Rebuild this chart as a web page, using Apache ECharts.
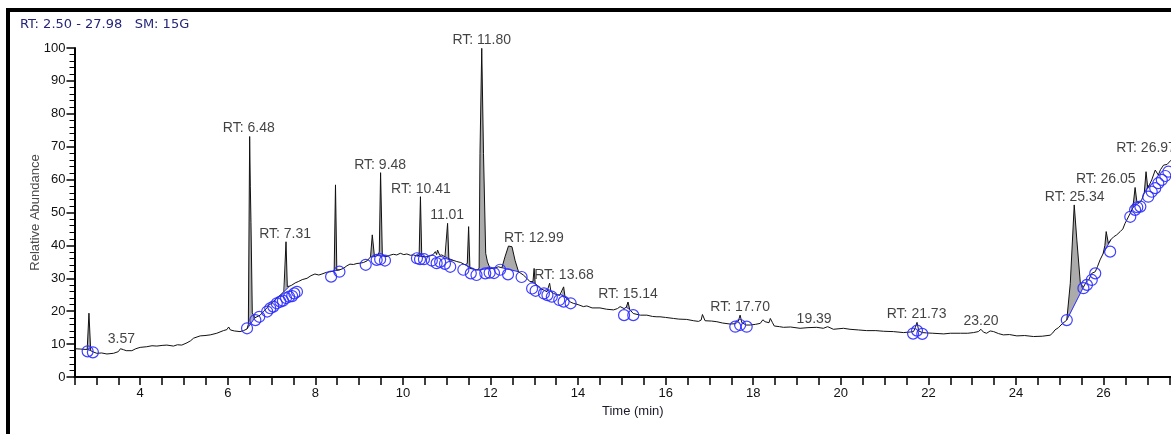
<!DOCTYPE html>
<html>
<head>
<meta charset="utf-8">
<title>RT 2.50 - 27.98</title>
<script src="https://cdn.jsdelivr.net/npm/echarts@6/dist/echarts.min.js"></script>
<style>
html,body{margin:0;padding:0;background:#fff;overflow:hidden;}
/* 画布比窗口略宽, 右侧被裁掉 */
#chart{width:1200px;height:434px;}
</style>
</head>
<body>
<div id="chart"></div>
<script>
// 保留时间 (min)
var traceTime=[2.50,2.63,2.74,2.79,2.83,2.87,2.93,3.01,3.12,3.24,3.39,3.50,3.55,3.58,3.62,3.68,3.81,3.90,
    4.00,4.15,4.27,4.38,4.50,4.61,4.76,4.85,4.95,5.07,5.15,5.22,5.37,5.48,5.60,5.75,5.90,5.98,6.02,6.06,6.15,6.28,6.36,
    6.44,6.47,6.50,6.515,6.53,6.56,6.62,6.74,6.82,6.89,6.95,7.01,7.08,7.16,7.22,7.28,7.30,7.33,7.36,7.41,7.46,7.54,7.61,
    7.70,7.81,7.90,7.99,8.08,8.15,8.25,8.34,8.43,8.46,8.49,8.56,8.64,8.72,8.79,8.87,8.95,9.02,9.10,9.18,9.26,9.30,9.35,
    9.42,9.46,9.49,9.53,9.63,9.70,9.78,9.86,9.94,10.02,10.09,10.17,10.24,10.32,10.37,10.40,10.43,10.52,10.62,10.69,10.74,
    10.77,10.79,10.84,10.89,10.96,10.99,11.02,11.05,11.14,11.23,11.32,11.42,11.47,11.50,11.53,11.61,11.69,11.74,11.76,
    11.80,11.84,11.89,11.93,11.99,12.07,12.18,12.26,12.33,12.41,12.49,12.56,12.64,12.75,12.83,12.90,12.97,12.996,13.02,
    13.13,13.22,13.29,13.33,13.35,13.38,13.44,13.52,13.58,13.62,13.67,13.70,13.74,13.82,13.89,14.00,14.12,14.20,14.32,
    14.50,14.65,14.81,14.90,14.96,15.05,15.10,15.14,15.18,15.26,15.42,15.57,15.70,15.80,15.87,16.00,16.18,16.30,16.48,
    16.64,16.75,16.81,16.84,16.90,17.05,17.17,17.30,17.47,17.60,17.66,17.70,17.74,17.84,17.93,18.05,18.16,18.22,18.27,
    18.36,18.39,18.44,18.48,18.60,18.69,18.85,19.07,19.25,19.45,19.60,19.70,19.83,20.06,20.21,20.40,20.59,20.80,20.98,
    21.20,21.43,21.60,21.66,21.70,21.74,21.78,21.86,21.96,22.10,22.35,22.50,22.73,22.90,23.03,23.14,23.20,23.26,23.33,
    23.41,23.49,23.60,23.71,23.85,24.02,24.20,24.40,24.60,24.78,24.84,24.89,24.97,25.05,25.16,25.24,25.33,25.39,25.47,
    25.54,25.60,25.66,25.73,25.81,25.86,25.92,25.99,26.03,26.06,26.11,26.17,26.23,26.30,26.38,26.44,26.49,26.53,26.61,
    26.67,26.72,26.76,26.82,26.87,26.93,26.97,27.01,27.05,27.10,27.18,27.25,27.30,27.37,27.45,27.54,27.62,27.66,27.72,
    27.85,27.98];
// 相对丰度
var traceValue=[8.6,8.5,8.4,8.4,19.4,8.0,7.6,7.2,7.3,7.0,7.2,7.7,8.6,9.2,8.3,8.0,8.0,8.6,
    9.0,9.2,9.5,9.4,9.6,9.7,9.4,9.8,9.7,10.4,11.0,11.8,12.5,12.6,12.8,13.3,14.1,14.4,15.2,14.3,14.0,13.8,14.1,
    14.6,16.0,73.1,58.0,47.0,19.5,18.0,18.8,20.0,20.9,22.0,22.4,23.4,24.4,25.2,25.9,26.2,41.1,27.5,27.6,27.9,28.6,29.0,
    29.6,30.0,30.8,31.3,31.0,31.3,31.8,32.0,32.2,58.4,32.5,32.6,33.0,33.8,34.3,34.2,34.5,34.6,34.8,35.3,36.5,43.2,36.6,
    36.9,38.0,62.1,37.1,36.6,37.0,37.3,37.1,37.6,37.2,37.4,37.0,37.1,36.8,37.0,54.8,36.6,36.5,36.8,37.2,38.1,
    37.2,38.6,37.0,37.1,36.5,37.0,46.7,35.6,35.5,35.1,34.8,34.1,34.5,45.7,33.0,32.8,32.5,33.0,68.0,
    99.9,68.0,37.6,35.0,33.0,33.0,33.5,33.2,36.5,39.8,39.6,35.5,32.0,31.0,30.0,29.0,29.0,33.0,28.5,
    26.9,26.4,25.9,26.5,28.5,26.0,25.4,25.0,24.8,25.0,27.4,24.5,23.9,22.8,22.4,22.0,21.4,21.6,21.0,
    21.0,20.6,20.4,20.8,21.4,20.8,21.2,22.8,20.5,19.3,18.8,18.8,18.4,18.3,18.3,18.1,17.8,17.6,17.5,
    17.1,16.9,17.3,19.0,17.1,17.0,16.8,16.4,16.1,16.2,17.0,18.8,16.5,15.8,15.8,16.0,16.3,17.4,16.8,
    16.5,17.8,16.5,15.5,15.3,15.1,15.2,14.8,15.0,15.1,14.8,15.3,14.5,14.8,14.5,14.3,14.1,14.1,13.9,
    13.8,13.5,13.7,13.8,15.0,16.6,14.0,13.5,13.4,13.3,13.1,13.3,13.3,13.3,13.5,13.8,14.5,13.6,13.3,
    14.0,13.8,13.2,12.8,12.9,12.5,12.6,12.3,12.4,12.7,13.4,14.3,15.0,16.1,17.3,28.5,52.3,41.6,28.5,
    27.3,28.8,29.5,31.5,32.0,33.5,35.6,37.5,40.0,44.2,40.6,41.8,42.6,43.2,44.2,45.0,46.7,47.7,49.8,
    51.5,57.6,53.3,53.0,53.8,56.0,62.4,57.4,58.5,59.9,62.9,61.4,63.0,64.4,64.6,65.9,67.0,68.5,67.6,
    68.2,68.8];
// 积分点 (蓝圈)
var markTime=[2.80,2.92,
    6.44,6.63,6.72,6.90,6.97,7.04,7.12,7.20,7.26,7.33,7.40,7.47,7.52,7.58,
    8.36,8.55,9.15,9.40,9.48,9.59,
    10.32,10.39,10.48,10.66,10.77,10.85,10.96,11.08,
    11.38,11.55,11.68,11.88,11.98,12.08,12.22,12.40,12.71,
    12.95,13.03,13.22,13.30,13.40,13.57,13.67,13.83,
    15.05,15.26,17.59,17.70,17.85,21.65,21.74,21.86,
    25.16,25.54,25.62,25.73,25.81,26.15,
    26.61,26.72,26.77,26.84,27.02,27.10,27.18,27.25,27.33,27.41,27.48];
var markValue=[7.8,7.5,
    14.8,17.3,18.3,19.9,20.9,21.4,22.4,22.9,23.2,24.0,24.4,24.6,25.4,25.9,
    30.5,32.0,34.1,35.6,35.8,35.4,
    36.1,35.8,35.8,35.4,34.6,35.0,34.4,33.5,
    32.6,31.5,31.0,31.5,31.7,31.6,32.6,31.2,30.4,
    26.9,26.2,25.4,24.9,24.4,23.4,22.9,22.4,
    18.8,18.8,15.3,15.8,15.3,13.2,14.1,13.1,
    17.3,27.0,28.0,29.5,31.5,38.1,
    48.7,50.8,51.6,51.8,54.8,56.3,57.4,58.9,59.9,61.1,62.4];
// 峰标注
var peakRT=[3.57,6.48,7.31,9.48,10.41,11.01,11.80,12.99,13.68,15.14,17.70,19.39,21.73,23.20,25.34,26.05,26.97];
var peakText=['3.57','RT: 6.48','RT: 7.31','RT: 9.48','RT: 10.41','11.01','RT: 11.80','RT: 12.99','RT: 13.68',
    'RT: 15.14','RT: 17.70','19.39','RT: 21.73','23.20','RT: 25.34','RT: 26.05','RT: 26.97'];
// 灰色积分面积 起止时间
var fillStart=[2.79,6.44,7.28,8.34,9.26,9.42,10.32,10.96,11.42,11.69,12.26,12.90,13.62,15.10,25.16,25.99,26.67,26.93];
var fillEnd=[2.87,6.62,7.41,8.56,9.35,9.63,10.52,11.14,11.61,11.99,12.64,13.02,13.74,15.18,25.54,26.17,26.82,27.05];

// 横轴范围 (取0.5的整数倍)
var tMin=2.5,tMax=28.0;
var pxPerMin=43.79;
var gridLeft=74.5,gridWidth=(tMax-tMin)*pxPerMin;

var chart=echarts.init(document.getElementById('chart'));

var lineData=[];
for(var i=0;i<traceTime.length;i++){
    lineData.push([traceTime[i],traceValue[i]]);
}
var markData=[];
for(var m=0;m<markTime.length;m++){
    markData.push([markTime[m],markValue[m]]);
}
var fillData=[];
for(var f=0;f<fillStart.length;f++){
    fillData.push([fillStart[f],fillEnd[f],0]);
}

// 标注高度: 标注文字宽度范围内的最高点
var ctx=document.createElement('canvas').getContext('2d');
ctx.font='14px "Liberation Sans"';
var labelData=[];
for(var p=0;p<peakRT.length;p++){
    var half=ctx.measureText(peakText[p]).width/2/pxPerMin;
    var maxV=0;
    for(var j=0;j<traceTime.length;j++){
        if(traceTime[j]>=peakRT[p]-half && traceTime[j]<=peakRT[p]+half && traceValue[j]>maxV){
            maxV=traceValue[j];
        }
    }
    labelData.push({value:[peakRT[p],maxV],name:peakText[p]});
}

var option={
    animation:false,
    backgroundColor:'#fff',
    textStyle:{fontFamily:'"Liberation Sans", Arial, sans-serif'},
    graphic:[
        {
            type:'rect',
            silent:true,
            z:100,
            shape:{x:8,y:10,width:1400,height:900},
            style:{fill:'none',stroke:'#000',lineWidth:4}
        },
        {
            type:'text',
            silent:true,
            x:20,
            y:25,
            style:{
                text:'RT: 2.50 - 27.98   SM: 15G',
                fontFamily:'"DejaVu Sans"',
                fontSize:13,
                fill:'#25257a',
                verticalAlign:'middle'
            }
        }
    ],
    grid:{
        left:gridLeft,
        top:48,
        width:gridWidth,
        height:329
    },
    xAxis:{
        type:'value',
        min:tMin,
        max:tMax,
        interval:0.5,
        name:'Time (min)',
        nameLocation:'middle',
        nameGap:28,
        nameMoveOverlap:false,
        nameTextStyle:{fontSize:13,color:'#1a1a2a'},
        axisLine:{lineStyle:{color:'#000',width:2}},
        axisTick:{length:8,lineStyle:{color:'#000',width:1.5}},
        axisLabel:{
            margin:10,
            fontSize:13,
            color:'#111',
            formatter:function(v){
                var r=Math.round(v);
                if(Math.abs(v-r)<1e-6 && r%2===0 && r<28){
                    return r+'';
                }
                return '';
            }
        },
        splitLine:{show:false}
    },
    yAxis:{
        type:'value',
        min:0,
        max:100,
        interval:10,
        name:'Relative Abundance',
        nameLocation:'middle',
        nameGap:33,
        nameMoveOverlap:false,
        nameTextStyle:{fontSize:13,color:'#4a4a4a'},
        axisLine:{show:true,lineStyle:{color:'#000',width:2}},
        axisTick:{show:true,length:8,lineStyle:{color:'#000',width:1.5}},
        minorTick:{show:true,splitNumber:5,length:5,lineStyle:{color:'#000',width:1}},
        axisLabel:{margin:9,fontSize:13,color:'#111'},
        splitLine:{show:false}
    },
    series:[
        {
            type:'custom',
            z:1,
            silent:true,
            encode:{x:[0,1],y:2},
            data:fillData,
            renderItem:function(params,api){
                var k=params.dataIndex;
                var pts=[];
                for(var n=0;n<traceTime.length;n++){
                    if(traceTime[n]>=fillStart[k]-1e-9 && traceTime[n]<=fillEnd[k]+1e-9){
                        pts.push(api.coord([traceTime[n],traceValue[n]]));
                    }
                }
                var last=pts[pts.length-1];
                return {
                    type:'group',
                    children:[
                        {type:'polygon',shape:{points:pts},style:{fill:'#ababab'}},
                        {type:'line',shape:{x1:pts[0][0],y1:pts[0][1],x2:last[0],y2:last[1]},style:{stroke:'#2b2bff',lineWidth:1}}
                    ]
                };
            }
        },
        {
            type:'line',
            z:2,
            data:lineData,
            showSymbol:false,
            silent:true,
            lineStyle:{color:'#111',width:1}
        },
        {
            type:'scatter',
            z:3,
            silent:true,
            data:markData,
            symbol:'circle',
            symbolSize:11,
            itemStyle:{color:'rgba(0,0,0,0)',borderColor:'#2b2bff',borderWidth:1.2,opacity:0.9}
        },
        {
            type:'scatter',
            z:4,
            silent:true,
            data:labelData,
            symbolSize:0,
            label:{
                show:true,
                position:'top',
                distance:1,
                formatter:'{b}',
                fontSize:14,
                color:'#111'
            }
        }
    ]
};
chart.setOption(option);
</script>
</body>
</html>
